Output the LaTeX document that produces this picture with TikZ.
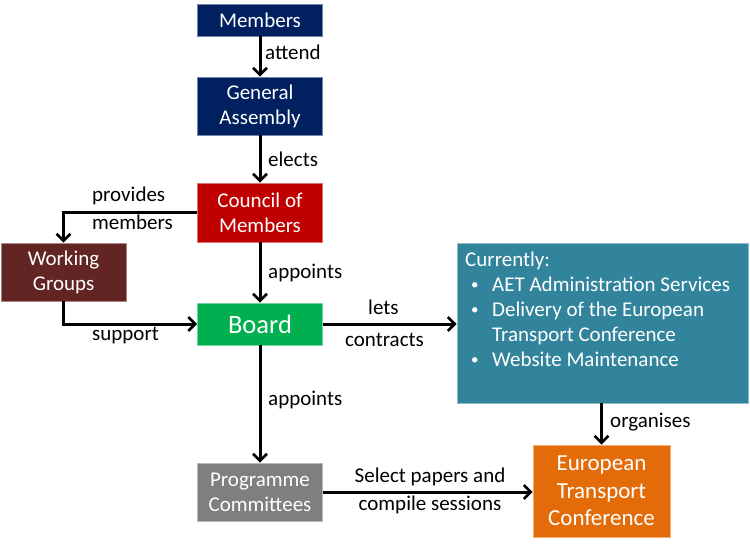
\documentclass[tikz,border=0pt]{standalone}
\usepackage{fontspec}
\setmainfont{Carlito}
\usetikzlibrary{arrows.meta}
\definecolor{navy}{RGB}{0,32,96}
\definecolor{cred}{RGB}{192,0,0}
\definecolor{wgbrown}{RGB}{99,37,35}
\definecolor{bgreen}{RGB}{0,176,80}
\definecolor{teal2}{RGB}{49,132,155}
\definecolor{pgray}{RGB}{127,127,127}
\definecolor{orange2}{RGB}{227,108,9}
\newcommand{\smbul}{\raisebox{2pt}{\fontsize{15}{15}\selectfont •}}
\tikzset{
  box/.style={draw=#1!55!white, fill=#1, line width=0.8pt, text=white, align=center, inner sep=0pt, font=\fontsize{21}{25}\selectfont},
  arr/.style={draw=black, line width=3pt, -{Straight Barb[length=7pt,width=14pt,line width=2.6pt]}},
  lbl/.style={anchor=base west, inner sep=0pt, font=\fontsize{21}{25}\selectfont, text=black}
}
\begin{document}
\begin{tikzpicture}[x=1pt,y=-1pt]
\useasboundingbox[fill=white] (0,0) rectangle (750,548);
\node[box=navy, minimum width=125pt, minimum height=32pt] (mem) at (260,20) {Members};
\node[box=navy, minimum width=125pt, minimum height=58pt] (ga) at (260,106) {General\\Assembly};
\node[box=cred, minimum width=125pt, minimum height=59pt] (coun) at (260,212.5) {Council of\\Members};
\node[box=wgbrown, minimum width=125pt, minimum height=58pt] (wg) at (63.5,272) {Working\\Groups};
\node[box=bgreen, minimum width=125pt, minimum height=42pt, font=\fontsize{26.5}{30}\selectfont] (board) at (260,324) {Board};
\node[box=teal2, minimum width=291pt, minimum height=160pt] (cur) at (602.5,323) {};
\node[anchor=north west, inner sep=0pt, text=white, font=\fontsize{21}{25}\selectfont] (curtext) at (465,249) {%
\begin{tabular}{@{}p{27pt}@{}l@{}}
\multicolumn{2}{@{}l@{}}{Currently:}\\
\hspace{6pt}\smbul& AET Administration Services\\
\hspace{6pt}\smbul& Delivery of the European\\
& Transport Conference\\
\hspace{6pt}\smbul& Website Maintenance
\end{tabular}};
\node[box=pgray, minimum width=125pt, minimum height=58pt] (pc) at (260,492) {Programme\\Committees};
\node[box=orange2, minimum width=137pt, minimum height=92pt, font=\fontsize{23}{27.5}\selectfont] (etc) at (601.5,491) {European\\Transport\\Conference};

\draw[arr] (mem) -- (ga);
\draw[arr] (ga) -- (coun);
\draw[arr] (coun.west) -| (wg.north);
\draw[arr] (coun) -- (board);
\draw[arr] (wg.south) |- (board.west);
\draw[arr] (board.east) -- (board.east -| cur.west);
\draw[arr] (board) -- (pc);
\draw[arr] (cur.south -| etc.north) -- (etc.north);
\draw[arr] (pc.east) -- (pc.east -| etc.west);

\node[lbl] (l1) at (265,60) {attend};
\node[lbl] (l2) at (268,167) {elects};
\node[lbl] (l3) at (92,202) {provides};
\node[lbl] (l4) at (92,230) {members};
\node[lbl] (l5) at (268,279) {appoints};
\node[lbl] (l6) at (92,340) {support};
\node[lbl] (l7) at (368,315) {lets};
\node[lbl] (l8) at (345,346) {contracts};
\node[lbl] (l9) at (268,405) {appoints};
\node[lbl] (l10) at (610,427) {organises};
\node[lbl, anchor=base] (l11) at (430,482) {Select papers and};
\node[lbl, anchor=base] (l12) at (430,510) {compile sessions};
\end{tikzpicture}
\end{document}
